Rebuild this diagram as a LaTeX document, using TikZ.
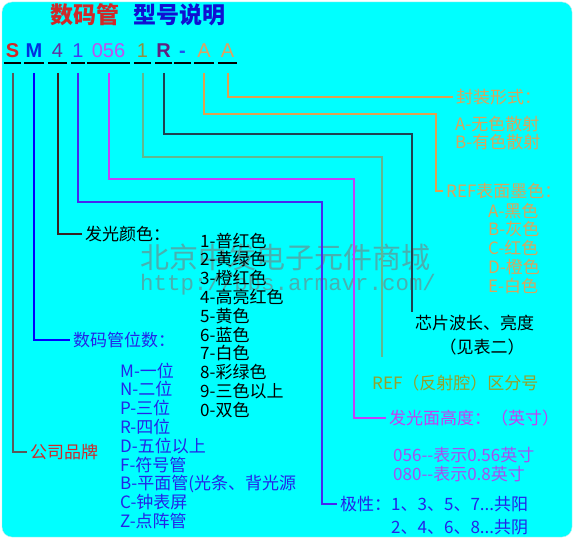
\documentclass[tikz,border=0pt]{standalone}
\usepackage{fontspec}
\newfontfamily\cjk{Noto Sans CJK SC}
\newfontfamily\codefont{Liberation Sans}
\newfontfamily\wmfont{Liberation Mono}
\usetikzlibrary{positioning}
\definecolor{bgcyan}{RGB}{0,255,255}
\definecolor{wmark}{RGB}{72,176,176}
\definecolor{tan}{RGB}{216,166,92}
\definecolor{olivetxt}{RGB}{150,160,40}
\definecolor{magtxt}{RGB}{196,64,240}
\definecolor{violtxt}{RGB}{165,80,240}
\definecolor{bluetxt}{RGB}{36,36,232}
\definecolor{redtxt}{RGB}{208,40,40}
\definecolor{wS}{RGB}{90,90,90}
\definecolor{wM}{RGB}{0,0,255}
\definecolor{wFour}{RGB}{58,32,32}
\definecolor{wOne}{RGB}{72,40,240}
\definecolor{wSize}{RGB}{196,64,248}
\definecolor{wGreen}{RGB}{96,184,144}
\definecolor{wR}{RGB}{32,64,80}
\definecolor{wA}{RGB}{224,160,80}

\begin{document}
\begin{tikzpicture}[x=1pt, y=-1pt,
    code/.style={font=\codefont\fontsize{20}{20}\selectfont, inner sep=0pt, anchor=base},
    ul/.style={line width=2pt, black},
    wire/.style={line width=2pt},
    lbl/.style={font=\cjk\fontsize{17}{18.8}\selectfont, inner sep=3pt, anchor=west},
    lst/.style={font=\cjk\fontsize{17}{18.8}\selectfont, inner sep=0pt, anchor=north west, align=left}]
    \useasboundingbox (0,0) rectangle (575,540);
    \fill[white] (0,0) rectangle (575,540);
    \draw[fill=bgcyan, draw={rgb,255:red,190;green,235;blue,235}, rounded corners=10pt] (2,2) rectangle (572,537);

    % watermark
    \node[font=\cjk\fontsize{29}{29}\selectfont, text=wmark, inner sep=0pt, anchor=west] (wm1) at (140,257) {北京中发电子元件商城};
    \node[font=\wmfont\fontsize{22.4}{22.4}\selectfont, text=wmark, inner sep=0pt, anchor=west] (wm2) at (140,285) {http://bbs.armavr.com/};

    % title
    \node[font=\cjk\bfseries\fontsize{23}{23}\selectfont, text=redtxt, inner sep=0pt, anchor=west] (ttl1) at (50,15) {数码管};
    \node[font=\cjk\bfseries\fontsize{23}{23}\selectfont, text={rgb,255:red,16;green,16;blue,210}, inner sep=0pt, right=14pt of ttl1] (ttl2) {型号说明};

    % code row
    \node[code, minimum width=17pt, text=redtxt] (cS) at (12.5,58) {\bfseries S};
    \node[code, minimum width=20pt, text={rgb,255:red,0;green,48;blue,224}] (cM) at (34,58) {\bfseries M};
    \node[code, minimum width=19pt, text={rgb,255:red,96;green,48;blue,160}] (cFour) at (57.5,58) {4};
    \node[code, minimum width=14pt, text={rgb,255:red,64;green,64;blue,240}] (cOne) at (78,58) {1};
    \node[code, minimum width=43pt, text={rgb,255:red,192;green,80;blue,240}] (cSize) at (108.5,58) {056};
    \node[code, minimum width=17pt, text={rgb,255:red,144;green,144;blue,64}] (cGreen) at (142.5,58) {1};
    \node[code, minimum width=17pt, text={rgb,255:red,96;green,32;blue,128}] (cR) at (163.5,58) {\bfseries R};
    \node[code, minimum width=17pt, text={rgb,255:red,32;green,80;blue,240}] (cDash) at (182.5,58) {\bfseries -};
    \node[code, minimum width=20pt, text={rgb,255:red,224;green,160;blue,96}] (cAa) at (204,58) {A};
    \node[code, minimum width=19pt, text={rgb,255:red,224;green,160;blue,96}] (cAb) at (227.5,58) {A};
    \draw[ul] ([yshift=-5pt]cS.base west) -- ([yshift=-5pt]cS.base east);
    \draw[ul] ([yshift=-5pt]cM.base west) -- ([yshift=-5pt]cM.base east);
    \draw[ul] ([yshift=-5pt]cFour.base west) -- ([yshift=-5pt]cFour.base east);
    \draw[ul] ([yshift=-5pt]cOne.base west) -- ([yshift=-5pt]cOne.base east);
    \draw[ul] ([yshift=-5pt]cSize.base west) -- ([yshift=-5pt]cSize.base east);
    \draw[ul] ([yshift=-5pt]cGreen.base west) -- ([yshift=-5pt]cGreen.base east);
    \draw[ul] ([yshift=-5pt]cR.base west) -- ([yshift=-5pt]cR.base east);
    \draw[ul] ([yshift=-5pt]cDash.base west) -- ([yshift=-5pt]cDash.base east);
    \draw[ul] ([yshift=-5pt]cAa.base west) -- ([yshift=-5pt]cAa.base east);
    \draw[ul] ([yshift=-5pt]cAb.base west) -- ([yshift=-5pt]cAb.base east);

    % left side labels
    \node[lbl] (tColor) at (82,234) {发光颜色：};
    \node[lst] (tColList) at (200,232.5) {1-普红色\\2-黄绿色\\3-橙红色\\4-高亮红色\\5-黄色\\6-蓝色\\7-白色\\8-彩绿色\\9-三色以上\\0-双色};
    \node[lbl, text=bluetxt] (tDigits) at (70,340) {数码管位数：};
    \node[lst, text=bluetxt] (tDigList) at (120,362.5) {M-一位\\N-二位\\P-三位\\R-四位\\D-五位以上\\F-符号管\\B-平面管(光条、背光源\\C-钟表屏\\Z-点阵管};
    \node[lbl, text=redtxt] (tBrand) at (27,452) {公司品牌};

    % right side labels
    \node[lbl, text=tan] (tPkg) at (453,97) {封装形式：};
    \node[lst, text=tan] (tPkgList) at (455,115.5) {A-无色散射\\B-有色散射};
    \node[lbl, text=tan] (tRef) at (443,191) {REF表面墨色：};
    \node[lst, text=tan] (tRefList) at (488,202.5) {A-黑色\\B-灰色\\C-红色\\D-橙色\\E-白色};
    \node[lbl] (tChip) at (412,323) {芯片波长、亮度};
    \node[font=\cjk\fontsize{17}{18.8}\selectfont, inner sep=2pt] (tSee) at (482,347) {（见表二）};
    \node[lbl, text=olivetxt] (tCav) at (369,383) {REF（反射腔）区分号};
    \node[lbl, text=magtxt] (tHeight) at (386,418) {发光面高度：（英寸）};
    \node[lst, text=violtxt] (tSize) at (393,447.5) {056--表示0.56英寸\\080--表示0.8英寸};
    \node[lbl, text=bluetxt] (tPol) at (337,504) {极性：1、3、5、7...共阳};
    \node[font=\cjk\fontsize{17}{18.8}\selectfont, text=bluetxt, inner sep=3pt, anchor=north east] (tPolB) at ([yshift=-1pt]tPol.south east) {2、4、6、8...共阴};

    % bends
    \coordinate (kAa) at (436,114);
    \coordinate (kR) at (412,134);
    \coordinate (kG) at (382,157);
    \coordinate (kSz) at (354,179);
    \coordinate (kOne) at (322,202);

    % wires
    \draw[wire, wS] ([yshift=-15pt]cS.base) |- (tBrand.west);
    \draw[wire, wM] ([yshift=-15pt]cM.base) |- (tDigits.west);
    \draw[wire, wFour] ([yshift=-15pt]cFour.base) |- (tColor.west);
    \draw[wire, wOne] ([yshift=-15pt]cOne.base) |- (kOne) |- (tPol.west);
    \draw[wire, wSize] ([yshift=-15pt]cSize.base) |- (kSz) |- (tHeight.west);
    \draw[wire, wGreen] ([yshift=-15pt]cGreen.base) |- (kG) -- (kG |- tSee.south);
    \draw[wire, wR] ([yshift=-15pt]cR.base) |- (kR) -- (kR |- tChip.north);
    \draw[wire, wA] ([yshift=-15pt]cAa.base) |- (kAa) |- (tRef.west);
    \draw[wire, wA] ([yshift=-15pt]cAb.base) |- (tPkg.west);
\end{tikzpicture}
\end{document}
